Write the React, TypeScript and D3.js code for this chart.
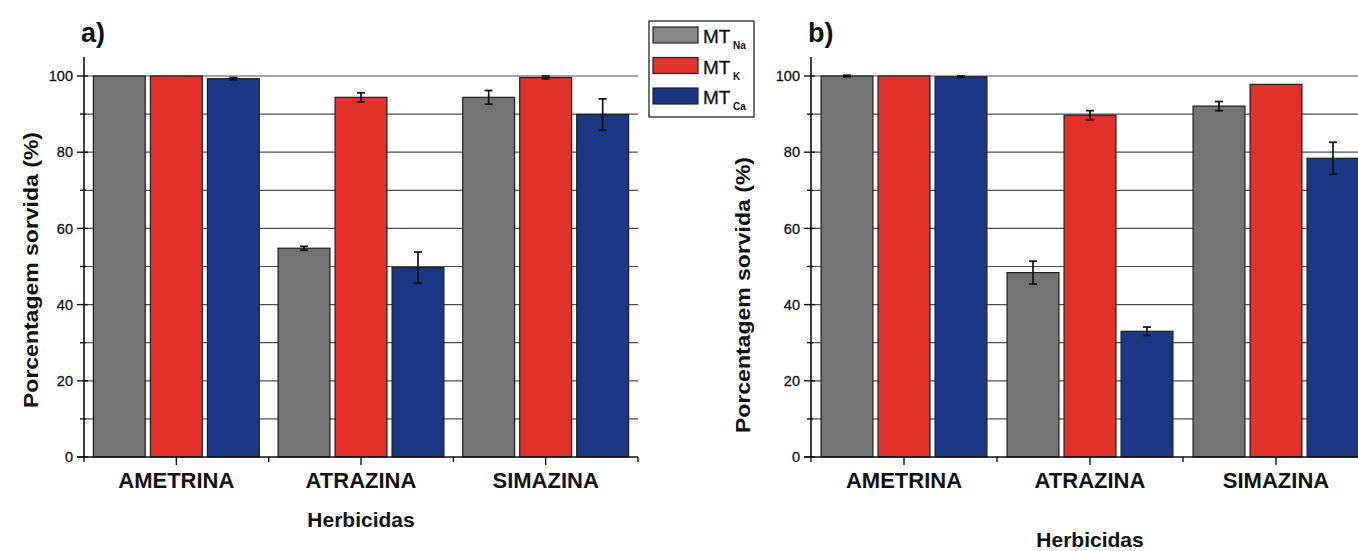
import React from "react";
import * as d3 from "d3";

const categories = ["AMETRINA", "ATRAZINA", "SIMAZINA"];
const seriesKeys = ["Na", "K", "Ca"];
const legendSubs = ["Na", "K", "Ca"];

// Panel a) values (%) and error bars
const aNa = [100, 54.8, 94.4];
const aNaErr = [0, 0.5, 1.8];
const aK = [100, 94.4, 99.6];
const aKErr = [0, 1.2, 0.4];
const aCa = [99.3, 49.7, 89.9];
const aCaErr = [0.3, 4.1, 4.1];

// Panel b) values (%) and error bars
const bNa = [100, 48.4, 92.1];
const bNaErr = [0.2, 3.0, 1.2];
const bK = [100, 89.7, 97.8];
const bKErr = [0, 1.2, 0];
const bCa = [99.8, 33.0, 78.4];
const bCaErr = [0.2, 1.1, 4.2];

const majorTicks = [0, 20, 40, 60, 80, 100];
const gridTicks = [10, 20, 30, 40, 50, 60, 70, 80, 90, 100];

const FONT = "'Liberation Sans', Arial, Helvetica, sans-serif";
const COLORS = ["#737373", "#e1312a", "#1b3887"];
const LEGEND_COLORS = ["#878787", "#e2352d", "#1b3887"];

type PanelProps = {
  x0: number;
  x1: number;
  label: string;
  vals: number[][];
  errs: number[][];
  yLabelX: number;
  yLabelY: number;
  herbY: number;
  clipRight: number;
};

const Y_TOP = 76;
const Y_BOTTOM = 457;

function Panel({ x0, x1, label, vals, errs, yLabelX, yLabelY, herbY, clipRight }: PanelProps) {
  const y = d3.scaleLinear().domain([0, 100]).range([Y_BOTTOM, Y_TOP]);
  const x = d3.scaleBand<string>().domain(categories).range([x0, x1]).paddingInner(0).paddingOuter(0);
  const step = x.step();
  const half = 1.5 * 57;
  const xs = d3.scaleBand<string>().domain(seriesKeys).range([-half, half]).paddingInner(0.09).paddingOuter(0.045);
  const bw = xs.bandwidth();
  const gridRight = Math.min(x1, clipRight);
  return (
    <g>
      {gridTicks.map((t) => (
        <line key={"g" + t} x1={x0} x2={gridRight} y1={y(t)} y2={y(t)} stroke="#4e4e4e" strokeWidth={1.2} />
      ))}
      {categories.map((c, ci) =>
        seriesKeys.map((s, si) => {
          const cx = (x(c) as number) + step / 2;
          const bx = cx + (xs(s) as number);
          const v = vals[si][ci];
          return (
            <rect
              key={c + s}
              x={bx}
              y={y(v)}
              width={bw}
              height={Y_BOTTOM - y(v)}
              fill={COLORS[si]}
              stroke="#1e1e1e"
              strokeWidth={1.2}
            />
          );
        })
      )}
      {categories.map((c, ci) =>
        seriesKeys.map((s, si) => {
          const e = errs[si][ci];
          if (!e) return null;
          const cx = (x(c) as number) + step / 2;
          const mx = cx + (xs(s) as number) + bw / 2;
          const v = vals[si][ci];
          return (
            <g key={"e" + c + s} stroke="#111" strokeWidth={1.7}>
              <line x1={mx} x2={mx} y1={y(v + e)} y2={y(v - e)} />
              <line x1={mx - 4} x2={mx + 4} y1={y(v + e)} y2={y(v + e)} />
              <line x1={mx - 4} x2={mx + 4} y1={y(v - e)} y2={y(v - e)} />
            </g>
          );
        })
      )}
      {/* y axis */}
      <line x1={x0} x2={x0} y1={Y_BOTTOM} y2={y(105)} stroke="#111" strokeWidth={1.6} />
      {gridTicks.concat([0]).map((t) => {
        const major = majorTicks.includes(t);
        return (
          <line key={"yt" + t} x1={x0 - (major ? 7 : 4)} x2={x0 + (major ? 4 : 2)} y1={y(t)} y2={y(t)} stroke="#111" strokeWidth={1.4} />
        );
      })}
      {majorTicks.map((t) => (
        <text key={"yl" + t} x={x0 - 11} y={y(t)} dy="0.36em" textAnchor="end" fontSize={14.5} fontFamily={FONT} fill="#111" stroke="#111" strokeWidth={0.3}>
          {t}
        </text>
      ))}
      {/* x axis */}
      <line x1={x0 - 7} x2={x1} y1={Y_BOTTOM} y2={Y_BOTTOM} stroke="#111" strokeWidth={1.7} />
      {[0, 1, 2, 3].map((i) => (
        <line key={"xb" + i} x1={x0 + i * step} x2={x0 + i * step} y1={Y_BOTTOM} y2={Y_BOTTOM + 5} stroke="#111" strokeWidth={1.4} />
      ))}
      {categories.map((c) => {
        const cx = (x(c) as number) + step / 2;
        return (
          <g key={"xc" + c}>
            <line x1={cx} x2={cx} y1={Y_BOTTOM} y2={Y_BOTTOM + 8} stroke="#111" strokeWidth={1.4} />
            <text x={cx} y={488} textAnchor="middle" fontSize={22} fontWeight="bold" fontFamily={FONT} fill="#111">
              {c}
            </text>
          </g>
        );
      })}
      <text x={x0 + step * 1.5} y={herbY} textAnchor="middle" fontSize={21} fontWeight="bold" fontFamily={FONT} fill="#111">
        Herbicidas
      </text>
      <text
        transform={`translate(${yLabelX},${yLabelY}) rotate(-90)`}
        textAnchor="middle"
        fontSize={20}
        fontWeight="bold"
        fontFamily={FONT}
        fill="#111"
        textLength={276}
        lengthAdjust="spacingAndGlyphs"
      >
        Porcentagem sorvida (%)
      </text>
      <text x={x0 - 3} y={42} fontSize={27} fontWeight="bold" fontFamily={FONT} fill="#111">
        {label}
      </text>
    </g>
  );
}

function Legend() {
  return (
    <g>
      <rect x={649} y={21} width={105} height={96} fill="#fff" stroke="#111" strokeWidth={1.2} />
      {legendSubs.map((s, i) => {
        const top = 27 + i * 30.5;
        return (
          <g key={s}>
            <rect x={653} y={top} width={45} height={16} fill={LEGEND_COLORS[i]} stroke="#222" strokeWidth={1.2} />
            <text x={703} y={top + 16} fontSize={19} fontFamily={FONT} fill="#111" stroke="#111" strokeWidth={0.3}>
              MT
            </text>
            <text x={733} y={top + 22} fontSize={10} fontWeight="bold" fontFamily={FONT} fill="#111">
              {s}
            </text>
          </g>
        );
      })}
    </g>
  );
}

export default function App() {
  return (
    <svg
      width={1358}
      height={551}
      viewBox="0 0 1358 551"
      style={{ position: "absolute", left: 0, top: 0, background: "#fff" }}
    >
      <rect x={0} y={0} width={1358} height={551} fill="#fff" />
      <Panel
        x0={84}
        x1={638}
        label="a)"
        vals={[aNa, aK, aCa]}
        errs={[aNaErr, aKErr, aCaErr]}
        yLabelX={38}
        yLabelY={270}
        herbY={527}
        clipRight={1358}
      />
      <Panel
        x0={811}
        x1={1369}
        label="b)"
        vals={[bNa, bK, bCa]}
        errs={[bNaErr, bKErr, bCaErr]}
        yLabelX={750}
        yLabelY={295}
        herbY={547}
        clipRight={1358}
      />
      <Legend />
    </svg>
  );
}
